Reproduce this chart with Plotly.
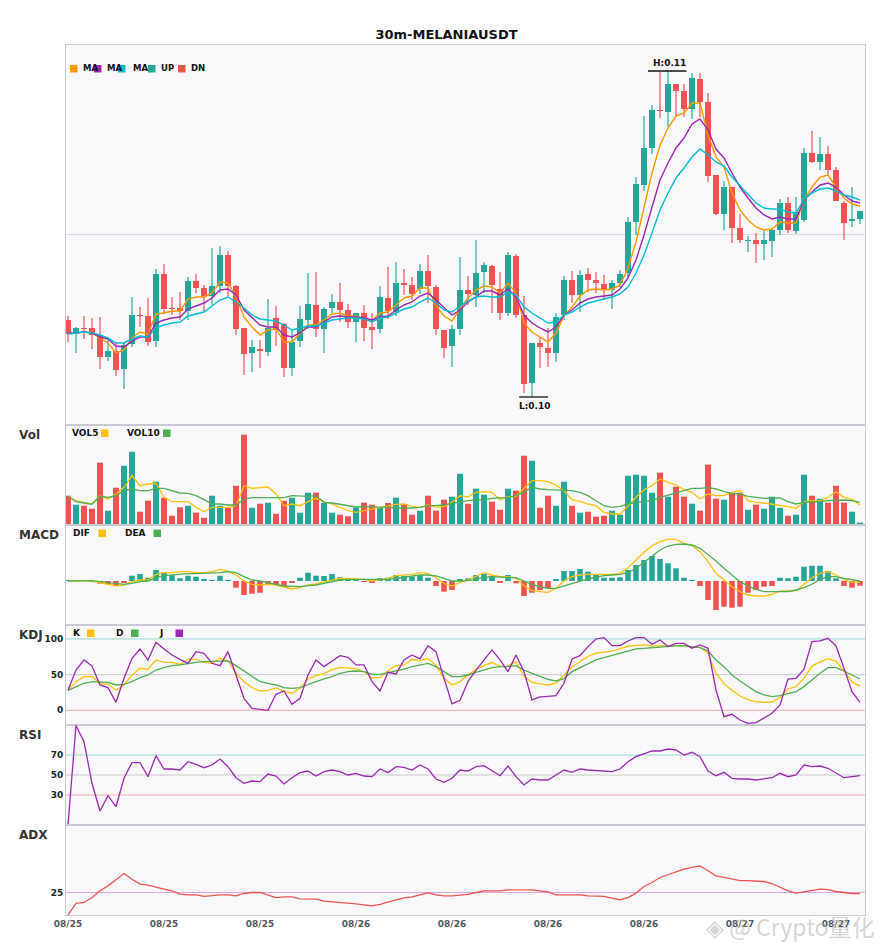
import plotly.graph_objects as go
from plotly.subplots import make_subplots

# 30m candles, 100 bars
idx = list(range(100))
tick_vals = list(range(0, 100, 12))
tick_labels = ["08/25", "08/25", "08/25", "08/26", "08/26", "08/26", "08/26", "08/27", "08/27"]

open_ = [0.10156, 0.10104, 0.10124, 0.10124, 0.10096, 0.10008, 0.10032, 0.09960, 0.10060, 0.10176,
         0.10172, 0.10072, 0.10340, 0.10204, 0.10204, 0.10192, 0.10312, 0.10284, 0.10252, 0.10292,
         0.10416, 0.10292, 0.10124, 0.10024, 0.10040, 0.10028, 0.10164, 0.10140, 0.09964, 0.10072,
         0.10156, 0.10216, 0.10120, 0.10204, 0.10228, 0.10196, 0.10148, 0.10184, 0.10128, 0.10120,
         0.10244, 0.10188, 0.10304, 0.10296, 0.10280, 0.10352, 0.10288, 0.10116, 0.10052, 0.10120,
         0.10276, 0.10256, 0.10348, 0.10372, 0.10280, 0.10184, 0.10412, 0.10176, 0.09904, 0.10064,
         0.10044, 0.10024, 0.10176, 0.10316, 0.10256, 0.10340, 0.10316, 0.10300, 0.10276, 0.10304,
         0.10344, 0.10548, 0.10696, 0.10844, 0.10996, 0.10988, 0.11100, 0.11072, 0.11000, 0.11120,
         0.11028, 0.10736, 0.10580, 0.10688, 0.10524, 0.10472, 0.10476, 0.10460, 0.10472, 0.10516,
         0.10624, 0.10512, 0.10556, 0.10824, 0.10788, 0.10820, 0.10756, 0.10624, 0.10552, 0.10560]
high = [0.10172, 0.10128, 0.10172, 0.10164, 0.10168, 0.10080, 0.10064, 0.10064, 0.10248, 0.10208,
        0.10244, 0.10360, 0.10380, 0.10248, 0.10268, 0.10328, 0.10340, 0.10296, 0.10444, 0.10452,
        0.10432, 0.10296, 0.10124, 0.10076, 0.10076, 0.10240, 0.10212, 0.10144, 0.10116, 0.10212,
        0.10344, 0.10348, 0.10208, 0.10260, 0.10304, 0.10220, 0.10184, 0.10216, 0.10184, 0.10292,
        0.10368, 0.10388, 0.10360, 0.10328, 0.10380, 0.10416, 0.10296, 0.10116, 0.10136, 0.10408,
        0.10332, 0.10476, 0.10388, 0.10376, 0.10348, 0.10428, 0.10420, 0.10252, 0.10064, 0.10088,
        0.10124, 0.10184, 0.10332, 0.10352, 0.10356, 0.10364, 0.10348, 0.10336, 0.10316, 0.10356,
        0.10568, 0.10728, 0.10972, 0.11016, 0.11148, 0.11152, 0.11100, 0.11100, 0.11144, 0.11144,
        0.11064, 0.10736, 0.10712, 0.10688, 0.10580, 0.10492, 0.10504, 0.10516, 0.10524, 0.10640,
        0.10648, 0.10648, 0.10844, 0.10912, 0.10888, 0.10852, 0.10768, 0.10632, 0.10688, 0.10592]
low = [0.10068, 0.10024, 0.10080, 0.10040, 0.09960, 0.09992, 0.09932, 0.09880, 0.10048, 0.10128,
       0.10052, 0.10048, 0.10180, 0.10176, 0.10156, 0.10156, 0.10264, 0.10192, 0.10216, 0.10264,
       0.10252, 0.10096, 0.09936, 0.09948, 0.09964, 0.10012, 0.10052, 0.09928, 0.09932, 0.10048,
       0.10120, 0.10088, 0.10024, 0.10184, 0.10148, 0.10124, 0.10068, 0.10072, 0.10040, 0.10104,
       0.10160, 0.10172, 0.10256, 0.10236, 0.10260, 0.10224, 0.10096, 0.10004, 0.09968, 0.10096,
       0.10216, 0.10208, 0.10264, 0.10184, 0.10156, 0.10172, 0.10164, 0.09864, 0.09848, 0.09964,
       0.09968, 0.09988, 0.10156, 0.10224, 0.10188, 0.10268, 0.10264, 0.10236, 0.10200, 0.10288,
       0.10328, 0.10496, 0.10672, 0.10820, 0.10964, 0.10928, 0.10968, 0.10968, 0.10960, 0.10968,
       0.10708, 0.10576, 0.10516, 0.10464, 0.10464, 0.10428, 0.10384, 0.10396, 0.10408, 0.10496,
       0.10504, 0.10500, 0.10548, 0.10784, 0.10756, 0.10736, 0.10632, 0.10476, 0.10528, 0.10540]
close = [0.10100, 0.10124, 0.10120, 0.10096, 0.10008, 0.10032, 0.09956, 0.10056, 0.10176, 0.10172,
         0.10068, 0.10340, 0.10200, 0.10200, 0.10192, 0.10312, 0.10284, 0.10248, 0.10292, 0.10416,
         0.10292, 0.10120, 0.10020, 0.10048, 0.10032, 0.10124, 0.10116, 0.09964, 0.10068, 0.10160,
         0.10220, 0.10120, 0.10200, 0.10228, 0.10196, 0.10148, 0.10184, 0.10124, 0.10116, 0.10248,
         0.10192, 0.10304, 0.10296, 0.10260, 0.10352, 0.10292, 0.10120, 0.10044, 0.10120, 0.10276,
         0.10260, 0.10344, 0.10376, 0.10296, 0.10184, 0.10416, 0.10176, 0.09900, 0.10064, 0.10048,
         0.10024, 0.10168, 0.10316, 0.10256, 0.10336, 0.10316, 0.10304, 0.10276, 0.10304, 0.10340,
         0.10548, 0.10700, 0.10844, 0.10996, 0.10992, 0.11100, 0.11072, 0.11000, 0.11124, 0.11028,
         0.10732, 0.10580, 0.10688, 0.10524, 0.10476, 0.10476, 0.10460, 0.10476, 0.10516, 0.10624,
         0.10516, 0.10588, 0.10824, 0.10788, 0.10820, 0.10756, 0.10632, 0.10544, 0.10560, 0.10592]

ma5 = [0.10100, 0.10104, 0.10108, 0.10104, 0.10084, 0.10064, 0.10024, 0.10036, 0.10084, 0.10108,
       0.10100, 0.10180, 0.10184, 0.10192, 0.10192, 0.10240, 0.10248, 0.10248, 0.10264, 0.10308,
       0.10304, 0.10248, 0.10168, 0.10128, 0.10096, 0.10116, 0.10120, 0.10068, 0.10068, 0.10100,
       0.10136, 0.10136, 0.10156, 0.10180, 0.10184, 0.10172, 0.10172, 0.10160, 0.10152, 0.10184,
       0.10188, 0.10216, 0.10244, 0.10252, 0.10284, 0.10284, 0.10212, 0.10172, 0.10152, 0.10200,
       0.10244, 0.10276, 0.10292, 0.10288, 0.10264, 0.10304, 0.10264, 0.10144, 0.10108, 0.10088,
       0.10068, 0.10104, 0.10172, 0.10208, 0.10252, 0.10276, 0.10280, 0.10276, 0.10280, 0.10296,
       0.10364, 0.10468, 0.10604, 0.10744, 0.10856, 0.10924, 0.10972, 0.10984, 0.11024, 0.11024,
       0.10896, 0.10808, 0.10768, 0.10664, 0.10596, 0.10556, 0.10528, 0.10516, 0.10520, 0.10548,
       0.10544, 0.10544, 0.10636, 0.10688, 0.10728, 0.10736, 0.10688, 0.10644, 0.10620, 0.10612]
ma10 = [0.10104, 0.10104, 0.10108, 0.10104, 0.10088, 0.10080, 0.10052, 0.10048, 0.10072, 0.10088,
        0.10088, 0.10144, 0.10156, 0.10164, 0.10168, 0.10200, 0.10212, 0.10224, 0.10244, 0.10276,
        0.10280, 0.10256, 0.10196, 0.10164, 0.10136, 0.10128, 0.10128, 0.10096, 0.10088, 0.10104,
        0.10128, 0.10128, 0.10148, 0.10168, 0.10172, 0.10168, 0.10168, 0.10164, 0.10156, 0.10168,
        0.10172, 0.10196, 0.10216, 0.10228, 0.10252, 0.10264, 0.10236, 0.10204, 0.10176, 0.10196,
        0.10228, 0.10248, 0.10272, 0.10272, 0.10256, 0.10280, 0.10248, 0.10176, 0.10144, 0.10124,
        0.10108, 0.10128, 0.10176, 0.10196, 0.10224, 0.10240, 0.10248, 0.10252, 0.10256, 0.10280,
        0.10324, 0.10396, 0.10496, 0.10608, 0.10716, 0.10784, 0.10844, 0.10884, 0.10940, 0.10960,
        0.10916, 0.10840, 0.10804, 0.10744, 0.10688, 0.10644, 0.10604, 0.10576, 0.10560, 0.10568,
        0.10560, 0.10560, 0.10636, 0.10668, 0.10696, 0.10704, 0.10688, 0.10656, 0.10632, 0.10624]
ma20 = [0.10100, 0.10104, 0.10108, 0.10104, 0.10096, 0.10084, 0.10064, 0.10064, 0.10080, 0.10092,
        0.10088, 0.10124, 0.10136, 0.10144, 0.10148, 0.10172, 0.10180, 0.10188, 0.10212, 0.10236,
        0.10248, 0.10228, 0.10204, 0.10176, 0.10160, 0.10156, 0.10152, 0.10136, 0.10116, 0.10124,
        0.10132, 0.10132, 0.10144, 0.10156, 0.10160, 0.10164, 0.10164, 0.10160, 0.10148, 0.10164,
        0.10168, 0.10184, 0.10200, 0.10208, 0.10228, 0.10244, 0.10224, 0.10196, 0.10188, 0.10212,
        0.10232, 0.10248, 0.10252, 0.10248, 0.10248, 0.10268, 0.10256, 0.10208, 0.10184, 0.10164,
        0.10144, 0.10148, 0.10176, 0.10188, 0.10208, 0.10224, 0.10232, 0.10240, 0.10248, 0.10260,
        0.10288, 0.10344, 0.10416, 0.10504, 0.10596, 0.10664, 0.10724, 0.10764, 0.10808, 0.10840,
        0.10816, 0.10788, 0.10772, 0.10728, 0.10692, 0.10656, 0.10624, 0.10604, 0.10600, 0.10600,
        0.10588, 0.10584, 0.10640, 0.10664, 0.10680, 0.10684, 0.10672, 0.10656, 0.10648, 0.10636]

# volume in thousands
volume = [293, 203, 193, 163, 623, 143, 373, 593, 733, 133,
          243, 433, 273, 93, 177, 193, 123, 73, 293, 193,
          173, 393, 903, 173, 213, 223, 113, 243, 273, 123,
          323, 323, 223, 123, 103, 87, 177, 223, 203, 173,
          220, 273, 203, 103, 143, 293, 143, 253, 283, 513,
          213, 363, 303, 233, 153, 363, 343, 693, 643, 173,
          293, 193, 433, 193, 123, 133, 83, 93, 143, 103,
          493, 503, 493, 323, 523, 283, 383, 283, 213, 143,
          603, 263, 253, 323, 323, 153, 203, 163, 283, 173,
          93, 103, 503, 293, 263, 223, 393, 223, 133, 23]
vol5 = [287, 243, 227, 210, 293, 260, 310, 377, 493, 393,
        410, 417, 277, 233, 233, 233, 177, 133, 177, 177,
        177, 193, 393, 367, 373, 380, 310, 193, 210, 193,
        233, 267, 233, 210, 177, 143, 127, 143, 160, 177,
        193, 207, 210, 187, 177, 200, 177, 187, 227, 293,
        280, 327, 333, 327, 253, 283, 287, 360, 443, 443,
        433, 400, 343, 253, 237, 210, 193, 127, 110, 110,
        187, 277, 353, 393, 460, 427, 400, 353, 327, 260,
        310, 293, 293, 327, 343, 243, 227, 220, 210, 193,
        183, 167, 233, 243, 243, 277, 333, 277, 253, 200]
vol10 = [287, 233, 220, 207, 287, 277, 293, 343, 360, 343,
         343, 367, 367, 343, 320, 317, 293, 253, 210, 210,
         200, 200, 260, 273, 273, 273, 273, 273, 293, 287,
         287, 293, 227, 220, 207, 193, 180, 183, 183, 180,
         177, 170, 167, 170, 177, 193, 193, 200, 217, 233,
         243, 250, 253, 267, 273, 277, 293, 327, 377, 360,
         353, 350, 343, 343, 327, 293, 243, 193, 177, 187,
         210, 227, 233, 243, 277, 300, 327, 350, 367, 367,
         373, 360, 333, 317, 310, 287, 277, 267, 270, 270,
         233, 210, 227, 227, 233, 243, 250, 250, 243, 227]

# MACD in units of 1e-5
dif = [0, 0.3, 0.3, 0, -1.3, -3.3, -5, -4, -0.7, 1,
       1, 6.7, 8.3, 8.3, 9.3, 9.3, 8.3, 8.3, 9.3, 11.7,
       10, 6, 0, -3.3, -4, -3.3, -4, -6.3, -8, -6.7,
       -4, -3, -1.3, 1, 2.7, 2.7, 2, 1.7, 0, 1,
       2.7, 5.3, 6, 6.7, 8.3, 7.7, 3.3, -2.3, -5, -1.3,
       1, 5, 8.3, 6, 4.3, 4.3, 2.7, -4.7, -9.7, -10.7,
       -11.3, -7.3, 0, 4.3, 6, 6.7, 6.7, 6.7, 6.7, 7.7,
       13.3, 21, 28.7, 35.3, 39.3, 41.7, 41.7, 37.7, 35.3, 29.3,
       19.3, 7.7, 1, -5.7, -10.7, -14, -15, -15, -13.3, -10,
       -10, -9.7, -3.3, 3.3, 7.7, 9.3, 6, 1, -1.3, -1.3]
dea = [0, 0.3, 0.3, 0.3, -0.7, -1.7, -3, -3.3, -2.3, -0.7,
       0, 3.3, 5.3, 6, 6.7, 7.3, 7.3, 7.7, 7.7, 8.3,
       9.3, 8.3, 4.3, 1, 0, -1.3, -3.3, -5, -5.7, -5.7,
       -4.7, -4, -2.3, -0.7, 1, 1.7, 1.7, 1.7, 1, 1,
       1.7, 2.7, 3.7, 4.3, 6, 6, 5, 2.7, 0, 0,
       0.3, 1.7, 3.7, 4.3, 4.3, 3.7, 3.3, 0, -3.3, -5.7,
       -7.3, -7.3, -5, -2.3, 0, 2, 3.7, 5.3, 6, 6.7,
       8.3, 12.7, 18.7, 25.3, 31, 35, 36.7, 37, 36, 32.7,
       26.7, 20, 12.7, 6, -0.7, -5, -8.3, -10.7, -10.7, -10.7,
       -10.7, -9, -6.7, -3.3, 1.7, 4.3, 4.3, 2.7, 1, 0]
macd_hist = [0.3, 0.3, 0.3, -0.5, -2.7, -3.3, -5, -1.7, 5.3, 7,
             3.3, 11, 8.3, 6, 2.7, 5.3, 4.3, 1.3, 1, 5.3,
             1, -6.7, -14, -12.7, -11.7, -3, -3.3, -5.7, -2, 3.3,
             8.3, 5.3, 5, 7, 3.7, 2, 1.7, -1, -2, 2.7,
             3.3, 6, 5.3, 4.3, 6, 3.3, -5, -10.7, -9, 1.7,
             2.7, 6, 7, 5.3, -1.7, 6, -2.3, -15, -11.7, -9,
             -7.3, 1.7, 10, 10, 12, 9.3, 6, 3.3, 3.3, 3.7,
             11, 16, 21, 25, 22, 17.7, 12.7, 3.3, 1, -5,
             -19, -29, -25.7, -26.7, -25.7, -11.7, -9, -5.7, -5, 3.3,
             2.7, 4.3, 14.3, 15.3, 15.3, 10, 2.7, -5, -6.7, -4.7]

k_line = [28, 40.2, 47.2, 47.2, 37.9, 36.4, 28.5, 35.5, 49.5, 58.9,
          57.5, 70.6, 67.3, 67.3, 64.5, 71.5, 71.5, 67.3, 65.9, 72.9,
          69.2, 52, 40, 32, 27.1, 28, 31.5, 27, 24, 31,
          44, 48.5, 51.5, 57, 60.2, 59.5, 58.4, 54, 45.5, 46,
          55.5, 62.6, 63.6, 71.5, 69.2, 72.5, 63, 45, 35.5, 40,
          50, 57, 63, 67, 61.5, 62, 68, 48, 39.3, 37,
          35.5, 38, 50, 61, 68, 75.5, 80, 81.5, 83, 86.5,
          89.8, 91, 91.7, 90, 90.7, 90, 91, 90.4, 88.2, 88.5,
          80, 52, 37, 28, 20, 15, 12, 11, 12, 18,
          30, 33, 45, 62, 68, 72, 69, 55, 40, 34]
d_line = [28, 33.2, 37.9, 40.2, 40.2, 39.3, 35.5, 36.4, 40.2, 45.8,
          49.5, 56.5, 59.8, 62.6, 63.6, 65.9, 67.3, 68.2, 68.2, 69.2,
          69.2, 62.6, 55.1, 47.2, 40.2, 37.9, 35.5, 31.8, 30.8, 31.8,
          36.4, 40.2, 43.9, 47.2, 51.9, 54.2, 55.1, 54.2, 50.5, 50.5,
          52.8, 55.1, 57.9, 61.2, 63.6, 65.9, 61.2, 54.2, 47.2, 47.2,
          49.5, 53.3, 56.5, 59.8, 61.2, 61.2, 62.6, 56.5, 51.9, 47.2,
          43.5, 41.1, 44.5, 54.2, 59.8, 64.5, 70.6, 73.8, 76.6, 79.9,
          83.2, 86, 86.9, 87.9, 88.8, 89.3, 90.2, 90.2, 89.3, 87.9,
          83.2, 70.6, 61.2, 49.5, 41.1, 33.2, 26.2, 21.5, 19.2, 20.6,
          23.8, 26.2, 33.2, 42.5, 51.9, 59.8, 59.8, 55.1, 49.5, 43.9]
j_line = [28, 56.5, 70.6, 62, 35.5, 31.8, 11.2, 44.9, 72.9, 86,
          70.6, 95.3, 86, 77.6, 71.5, 65.9, 82.2, 79.9, 65.9, 62.6,
          82.2, 49.5, 16.8, 2.8, 0.9, 0, 22.4, 27.1, 8.4, 16.8,
          49.5, 70.6, 61.2, 69.2, 76.6, 74.3, 63.6, 63.6, 40.2, 27.1,
          53.3, 50.9, 70.6, 77.6, 72, 90.2, 82.2, 44.9, 8.9, 14,
          40.2, 56.5, 70.6, 84.6, 70.6, 54.2, 77.6, 54.2, 14.5, 18.7,
          19.6, 20.6, 37.9, 72, 76.6, 89.3, 100, 101.9, 90.7, 90.7,
          97.2, 101.9, 101.9, 92.5, 98.6, 89.3, 93.9, 93.9, 86.9, 91.6,
          86.9, 28.5, -8.9, -5.6, -13.6, -18.2, -17.3, -11.2, -4.2, 7.5,
          43.9, 44.9, 57.5, 96.3, 97.2, 100.9, 90.2, 58.9, 26.2, 11.2]

rsi = [0, 99.5, 83.3, 41.7, 14, 29.3, 18.3, 46.7, 62.3, 62.3,
       48.3, 69.3, 56, 56, 55, 63.3, 60.7, 57.3, 60, 66,
       58.3, 47.3, 41.7, 44, 43.3, 51, 49, 41, 47.3, 52.3,
       54, 49, 53.3, 55, 53.3, 50, 51.7, 49, 48.3, 56,
       52.3, 58.3, 57.7, 55, 60, 56, 46, 42.7, 46.7, 55,
       54, 58.3, 59.3, 54.3, 49.3, 59, 48.3, 40, 46, 45,
       45, 50, 55, 52.7, 56, 55, 54.3, 53.3, 53.3, 56,
       63.3, 68.3, 71.3, 74, 74, 76, 75, 70, 72.7, 68.3,
       54, 49.3, 52.7, 46.7, 46, 46, 45, 46, 47.3, 51.7,
       48.3, 50, 60, 58.3, 59, 56.7, 51.7, 47.3, 48.3, 49.3]
adx = [0, 12.8, 13.9, 19.4, 26.9, 32.4, 39.1, 46.1, 39.8, 34.3,
       33.1, 30.6, 28.7, 26.9, 23.1, 22.4, 22.4, 20.6, 21.7, 22.4,
       22.4, 21.3, 23.9, 25, 25, 22, 19.4, 20.2, 20.2, 18,
       18, 17.6, 15.4, 14.6, 14.6, 13.5, 12.4, 11.3, 10.2, 11.7,
       14.6, 16.9, 19.1, 20.2, 22.4, 24.6, 22.4, 21.3, 21.3, 22.4,
       22.8, 25, 26.9, 26.9, 26.9, 28, 28, 28, 28, 26.9,
       25.7, 22.4, 22.4, 22.4, 22.4, 21.3, 21.3, 20.6, 18.7, 16.9,
       19.4, 24.3, 31.7, 36.1, 41.7, 44.6, 47.2, 50.9, 52.8, 54.6,
       49.1, 43.5, 41.7, 39.8, 38.3, 38.3, 38, 37.2, 35, 30.6,
       26.9, 24.3, 25.7, 27.6, 28.7, 28.3, 26.1, 25, 23.9, 23.9]

UP = "#26a69a"
DN = "#ef5350"
ORANGE = "#ff9800"
PURPLE = "#9c27b0"
CYAN = "#00bcd4"
YELLOW = "#ffc107"
GREEN = "#4caf50"
BORDER = "#c9c9d3"
FONT = "DejaVu Sans"

up = [c >= o for o, c in zip(open_, close)]
bar_colors = [UP if u else DN for u in up]

fig = make_subplots(rows=6, cols=1, shared_xaxes=True, vertical_spacing=0)

# candles: wicks then bodies
for flag, color in [(True, UP), (False, DN)]:
    wx, wy = [], []
    for i in idx:
        if up[i] == flag:
            wx += [i, i, None]
            wy += [low[i], high[i], None]
    fig.add_trace(go.Scatter(x=wx, y=wy, mode="lines", line=dict(color=color, width=1.2),
                             hoverinfo="skip"), row=1, col=1)
fig.add_trace(go.Bar(x=idx, base=[min(o, c) for o, c in zip(open_, close)],
                     y=[abs(c - o) for o, c in zip(open_, close)], width=0.75,
                     marker=dict(color=bar_colors, line=dict(width=0))), row=1, col=1)
for ys, color in [(ma5, ORANGE), (ma10, PURPLE), (ma20, CYAN)]:
    fig.add_trace(go.Scatter(x=idx, y=ys, mode="lines", line=dict(color=color, width=1.4)), row=1, col=1)

# volume
fig.add_trace(go.Bar(x=idx, y=volume, width=0.75, marker=dict(color=bar_colors, line=dict(width=0))), row=2, col=1)
fig.add_trace(go.Scatter(x=idx, y=vol5, mode="lines", line=dict(color=YELLOW, width=1.3)), row=2, col=1)
fig.add_trace(go.Scatter(x=idx, y=vol10, mode="lines", line=dict(color=GREEN, width=1.3)), row=2, col=1)

# MACD
fig.add_trace(go.Bar(x=idx, y=macd_hist, width=0.7,
                     marker=dict(color=[UP if v >= 0 else DN for v in macd_hist], line=dict(width=0))), row=3, col=1)
fig.add_trace(go.Scatter(x=idx, y=dif, mode="lines", line=dict(color=YELLOW, width=1.3)), row=3, col=1)
fig.add_trace(go.Scatter(x=idx, y=dea, mode="lines", line=dict(color=GREEN, width=1.3)), row=3, col=1)

# KDJ
fig.add_trace(go.Scatter(x=idx, y=k_line, mode="lines", line=dict(color=YELLOW, width=1.3)), row=4, col=1)
fig.add_trace(go.Scatter(x=idx, y=d_line, mode="lines", line=dict(color=GREEN, width=1.3)), row=4, col=1)
fig.add_trace(go.Scatter(x=idx, y=j_line, mode="lines", line=dict(color=PURPLE, width=1.3)), row=4, col=1)

# RSI / ADX
fig.add_trace(go.Scatter(x=idx, y=rsi, mode="lines", line=dict(color=PURPLE, width=1.3)), row=5, col=1)
fig.add_trace(go.Scatter(x=idx, y=adx, mode="lines", line=dict(color=DN, width=1.3)), row=6, col=1)

# reference lines
TEAL = "#92d6d0"
GRAY = "#c8c8c8"
PINK = "#f2a8a8"
for r, lines in [(4, [(100, TEAL), (50, GRAY), (0, PINK)]),
                 (5, [(70, TEAL), (50, GRAY), (30, PINK)]),
                 (6, [(25, "#dba3e6")])]:
    for yv, c in lines:
        fig.add_hline(y=yv, row=r, col=1, line=dict(color=c, width=1), layer="below")

# the page body adds an 8px margin, so the figure is 8px smaller than the window
fig.update_layout(
    width=877, height=942,
    margin=dict(l=58, r=20, t=37, b=35),
    paper_bgcolor="white", plot_bgcolor="#f9f9fc",
    showlegend=False, barmode="overlay",
    font=dict(family=FONT),
    title=dict(text="30m-MELANIAUSDT", x=0.5, xanchor="center", y=1 - 26 / 942, yanchor="middle",
               font=dict(family=FONT, size=13, color="#111", weight="bold")),
)

domains = [(0.56322, 1.0), (0.44828, 0.56322), (0.33333, 0.44828),
           (0.21839, 0.33333), (0.10345, 0.21839), (0.0, 0.10345)]
for r, d in enumerate(domains, start=1):
    fig.update_yaxes(domain=list(d), row=r, col=1)

fig.update_xaxes(range=[-0.25, 99.625], showgrid=False, zeroline=False, showline=True, mirror=True,
                 linecolor=BORDER, linewidth=1, ticks="")
fig.update_xaxes(row=6, col=1, tickvals=tick_vals, ticktext=tick_labels,
                 tickfont=dict(family=FONT, size=9, color="#555", weight="bold"))
fig.update_yaxes(showgrid=False, zeroline=False, showline=True, mirror=True, linecolor=BORDER,
                 linewidth=1, ticks="", tickfont=dict(family=FONT, size=9, color="#222", weight="bold"))
fig.update_yaxes(row=1, col=1, range=[0.09736, 0.11256], tickvals=[0.105], showgrid=True,
                 gridcolor="#dcdce6", showticklabels=False)
fig.update_yaxes(row=2, col=1, range=[0, 1000], showticklabels=False)
fig.update_yaxes(row=3, col=1, range=[-44, 56], showticklabels=False)
fig.update_yaxes(row=4, col=1, range=[-20.6, 119.6], tickvals=[0, 50, 100])
fig.update_yaxes(row=5, col=1, range=[0, 100], tickvals=[30, 50, 70])
fig.update_yaxes(row=6, col=1, range=[0, 100], tickvals=[25])


# page pixel -> paper coordinates (plot area spans x 66..865, y 45..915 on the page)
def px_x(px):
    return (px - 66) / 799


def px_y(py):
    return (915 - py) / 870


def label(text, x, y, size=9, color="#111", anchor="left"):
    fig.add_annotation(text=text, x=px_x(x), y=px_y(y), xref="paper", yref="paper",
                       xanchor=anchor, yanchor="middle", showarrow=False,
                       font=dict(family=FONT, size=size, color=color, weight="bold"))


def square(x0, y0, color):
    fig.add_shape(type="rect", xref="paper", yref="paper",
                  x0=px_x(x0), x1=px_x(x0 + 7.5), y0=px_y(y0 + 7.5), y1=px_y(y0),
                  fillcolor=color, line=dict(width=0), layer="above")


# panel names
for name, y in [("Vol", 435), ("MACD", 535), ("KDJ", 635), ("RSI", 735), ("ADX", 835)]:
    label(name, 17, y, size=12, color="#333")

# legends
for text, x in [("MA", 81), ("MA", 105), ("MA", 131), ("UP", 159), ("DN", 189)]:
    label(text, x, 68.5, size=8.5)
for x, c in [(70, ORANGE), (94, PURPLE), (118, CYAN), (148, UP), (178, DN)]:
    square(x, 65, c)

label("VOL5", 70, 433)
label("VOL10", 125, 433)
square(101, 429.5, YELLOW)
square(163, 429.5, GREEN)

label("DIF", 71, 533)
label("DEA", 123, 533)
square(98.5, 529.5, YELLOW)
square(153.5, 529.5, GREEN)

label("K", 71, 633)
label("D", 114, 633)
label("J", 157, 633)
square(87, 629.5, YELLOW)
square(131, 629.5, GREEN)
square(175.5, 629.5, PURPLE)

# high / low markers
hi_i = max(idx, key=lambda i: high[i])
lo_i = min(idx, key=lambda i: low[i])
fig.add_shape(type="line", xref="x", yref="y", x0=hi_i - 2.5, x1=hi_i + 2.3,
              y0=high[hi_i], y1=high[hi_i], line=dict(color="#111", width=1.3))
fig.add_annotation(x=hi_i + 0.2, y=high[hi_i], xref="x", yref="y", text=f"H:{high[hi_i]:.2f}",
                   showarrow=False, yanchor="bottom", yshift=1,
                   font=dict(family=FONT, size=9, color="#111", weight="bold"))
fig.add_shape(type="line", xref="x", yref="y", x0=lo_i - 1.6, x1=lo_i + 2.0,
              y0=low[lo_i], y1=low[lo_i], line=dict(color="#111", width=1.3))
fig.add_annotation(x=lo_i + 0.4, y=low[lo_i], xref="x", yref="y", text=f"L:{low[lo_i]:.2f}",
                   showarrow=False, yanchor="top", yshift=-2,
                   font=dict(family=FONT, size=9, color="#111", weight="bold"))

# watermark
fig.add_annotation(text="◈ @ Crypto量化", x=px_x(704), y=px_y(926), xref="paper", yref="paper",
                   xanchor="left", yanchor="middle", showarrow=False,
                   font=dict(family="Noto Sans CJK SC", size=23, color="rgba(170,170,170,0.5)"))

fig.write_html("out.html")
